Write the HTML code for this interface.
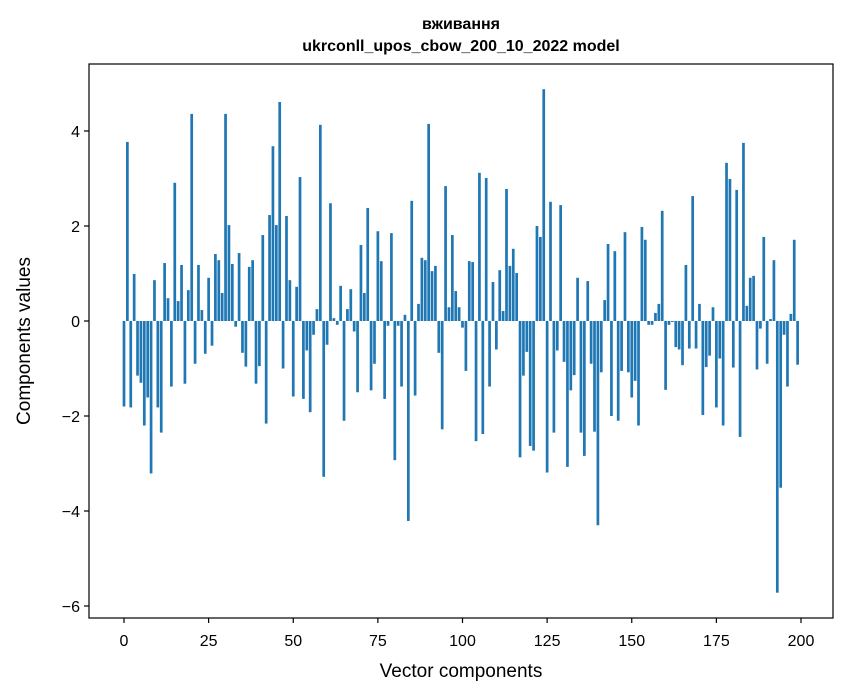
<!DOCTYPE html>
<html><head><meta charset="utf-8"><style>
html,body{margin:0;padding:0;background:#fff;}
svg{display:block;font-family:"Liberation Sans","DejaVu Sans",sans-serif;}
</style></head><body>
<svg id="chart" width="847" height="696" viewBox="0 0 847 696" xmlns="http://www.w3.org/2000/svg">
<rect x="0" y="0" width="847" height="696" fill="#fff"/>
<text x="461" y="29" text-anchor="middle" font-size="16" font-weight="bold">вживання</text>
<text x="461" y="51" text-anchor="middle" font-size="16" font-weight="bold">ukrconll_upos_cbow_200_10_2022 model</text>
<g id="bars"></g>
<g id="xticks"></g>
<g id="yticks"></g>
<rect x="89" y="64" width="744" height="554" fill="none" stroke="#000" stroke-width="1.2"/>
<text x="461" y="677" text-anchor="middle" font-size="19">Vector components</text>
<text transform="translate(30,341) rotate(-90)" text-anchor="middle" font-size="19">Components values</text>
</svg>
<script>
const values = [
-1.80,3.77,-1.82,0.99,-1.15,-1.30,-2.20,-1.61,-3.21,0.86,
-1.82,-2.35,1.22,0.48,-1.38,2.91,0.42,1.18,-1.32,0.65,
4.36,-0.90,1.18,0.23,-0.69,0.91,-0.52,1.41,1.28,0.59,
4.36,2.02,1.20,-0.12,1.43,-0.67,-0.96,1.14,1.28,-1.32,
-0.95,1.81,-2.16,2.23,3.68,2.02,4.61,-1.00,2.21,0.86,
-1.59,0.72,3.03,-1.64,-0.62,-1.92,-0.29,0.25,4.13,-3.28,
-0.50,2.48,0.06,-0.08,0.74,-2.10,0.25,0.67,-0.22,-1.50,
1.60,0.59,2.38,-1.46,-0.90,1.89,1.26,-1.64,-0.10,1.85,
-2.93,-0.10,-1.38,0.13,-4.21,2.53,-1.57,0.36,1.33,1.28,
4.15,1.05,1.16,-0.67,-2.28,2.84,0.29,1.81,0.63,0.29,
-0.14,-1.05,1.26,1.24,-2.53,3.12,-2.38,3.01,-1.38,0.82,
-0.60,1.07,0.21,2.78,1.16,1.52,1.01,-2.87,-1.15,-0.65,
-2.63,-2.73,2.00,1.77,4.88,-3.19,2.51,-2.35,-0.62,2.44,
-0.86,-3.07,-1.46,-1.14,0.91,-2.35,-2.84,0.84,-0.90,-2.33,
-4.30,-1.08,0.44,1.62,-2.00,1.47,-2.10,-1.05,1.87,-1.08,
-1.61,-1.26,-2.20,1.98,1.71,-0.08,-0.08,0.17,0.36,2.32,
-1.45,-0.08,-0.02,-0.55,-0.60,-0.93,1.18,-0.58,2.63,-0.58,
0.36,-1.98,-0.97,-0.73,0.29,-1.82,-0.79,-2.20,3.33,2.99,
-0.98,2.76,-2.44,3.75,0.32,0.91,0.95,-1.02,-0.16,1.77,
-0.90,0.04,1.28,-5.72,-3.51,-0.29,-1.38,0.15,1.71,-0.92
];
const xTicks = [0,25,50,75,100,125,150,175,200];
const yTicks = [-6,-4,-2,0,2,4];
const yTickLabels = ["\u22126","\u22124","\u22122","0","2","4"];

const NS="http://www.w3.org/2000/svg";
function xs(v){return 124 + v*(801-124)/200;}
function ys(v){return 321 - v*47.5;}
const bw = 0.8*(801-124)/200;
const gb=document.getElementById('bars');
values.forEach((v,i)=>{
  const r=document.createElementNS(NS,'rect');
  
  
  const y0=ys(Math.max(v,0)), y1=ys(Math.min(v,0));
  r.setAttribute('x',xs(i)-bw/2);
  r.setAttribute('y',y0);
  r.setAttribute('width',bw);
  r.setAttribute('height',Math.max(y1-y0,0.01));
  r.setAttribute('fill','#1f77b4');
  gb.appendChild(r);
});
const gx=document.getElementById('xticks');
xTicks.forEach(t=>{
  const l=document.createElementNS(NS,'line');
  
  
  l.setAttribute('x1',xs(t));l.setAttribute('x2',xs(t));
  l.setAttribute('y1',618);l.setAttribute('y2',623);
  l.setAttribute('stroke','#000');l.setAttribute('stroke-width','1.2');
  gx.appendChild(l);
  const tx=document.createElementNS(NS,'text');
  
  
  tx.setAttribute('x',xs(t));tx.setAttribute('y',646);
  tx.setAttribute('text-anchor','middle');tx.setAttribute('font-size','16');
  tx.textContent=String(t);
  gx.appendChild(tx);
});
const gy=document.getElementById('yticks');
yTicks.forEach((t,k)=>{
  const l=document.createElementNS(NS,'line');
  
  
  l.setAttribute('x1',84);l.setAttribute('x2',89);
  l.setAttribute('y1',ys(t));l.setAttribute('y2',ys(t));
  l.setAttribute('stroke','#000');l.setAttribute('stroke-width','1.2');
  gy.appendChild(l);
  const tx=document.createElementNS(NS,'text');
  
  
  tx.setAttribute('x',80);tx.setAttribute('y',ys(t)+6);
  tx.setAttribute('text-anchor','end');tx.setAttribute('font-size','16');
  tx.textContent=yTickLabels[k];
  gy.appendChild(tx);
});
</script>
</body></html>
